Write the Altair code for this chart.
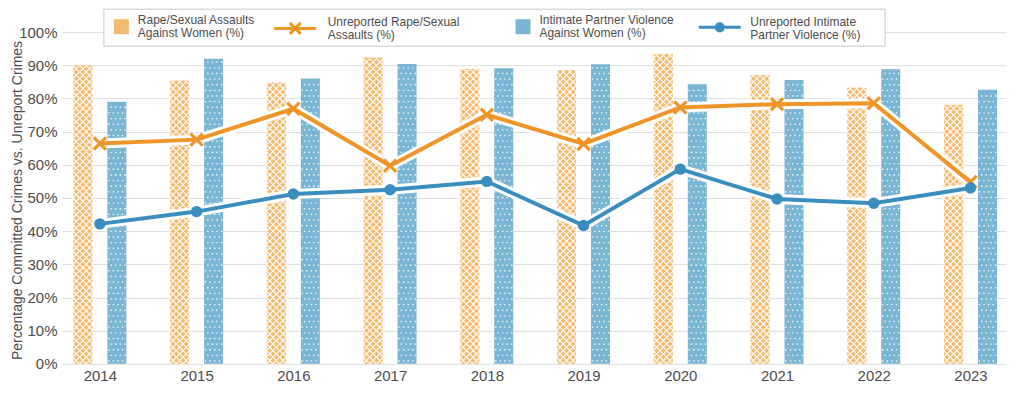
import altair as alt
import pandas as pd

# ---------------- data ----------------
years = [2014, 2015, 2016, 2017, 2018, 2019, 2020, 2021, 2022, 2023]
rape_pct = [90.0, 85.4, 84.8, 92.3, 88.9, 88.6, 93.5, 87.1, 83.3, 78.1]
unrep_rape_pct = [66.4, 67.6, 76.9, 59.7, 75.1, 66.3, 77.3, 78.3, 78.6, 54.8]
ipv_pct = [79.0, 92.0, 86.0, 90.4, 89.1, 90.3, 84.3, 85.6, 88.8, 82.6]
unrep_ipv_pct = [42.2, 45.9, 51.2, 52.5, 55.0, 41.7, 58.7, 49.7, 48.4, 53.0]

lab_rape = "Rape/Sexual Assaults Against Women (%)"
lab_unrep_rape = "Unreported Rape/Sexual Assaults (%)"
lab_ipv = "Intimate Partner Violence Against Women (%)"
lab_unrep_ipv = "Unreported Intimate Partner Violence (%)"
y_title = "Percentage Committed Crimes vs. Unreport Crimes"

df = pd.DataFrame({
    "year": years,
    "rape": rape_pct,
    "unrep_rape": unrep_rape_pct,
    "ipv": ipv_pct,
    "unrep_ipv": unrep_ipv_pct,
})

# ---------------- style ----------------
ORANGE_BAR = "#F4BA70"
BLUE_BAR = "#7AB5D3"
ORANGE = "#EF9427"
BLUE = "#3A8EBF"
GRID = "#DDDDDD"
TEXT = "#4D4D4D"
FONT = "Liberation Sans"

W, H = 945, 332
XMIN, XMAX = 2013.608, 2023.367
PX = (XMAX - XMIN) / W          # year units per pixel
OFF = 17 * PX                   # bar offset from year centre
BARW = 19
D = 6.64                        # hatch spacing in px (2% of the y range)

XPATH = "M-1,-1L1,1M-1,1L1,-1"
LEG_SQ = "M-1,-0.13H1V1.87H-1Z"
LEG_X = "M-1,0.32H1M-0.26,0.06L0.26,0.58M-0.26,0.58L0.26,0.06"
LEG_O = "M-1,0.27H1M-0.17,0.27a0.17,0.17 0 1,0 0.34,0a0.17,0.17 0 1,0 -0.34,0Z"

xscale = alt.Scale(domain=[XMIN, XMAX], nice=False, zero=False, padding=0)
yscale = alt.Scale(domain=[0, 100], nice=False, padding=0)

xaxis = alt.Axis(values=years, format="d", title=None, grid=False, ticks=False,
                 domain=False, labelPadding=5, labelFontSize=15, labelColor=TEXT,
                 labelFont=FONT)
yaxis = alt.Axis(values=list(range(0, 101, 10)), labelExpr="datum.value + '%'",
                 title=y_title, titleX=-40, titleY=168, titleAngle=270,
                 titleAlign="center", titleBaseline="alphabetic",
                 titleFontSize=14, titleFontWeight="normal", titleColor=TEXT,
                 titleFont=FONT, grid=True, gridColor=GRID, gridWidth=1,
                 ticks=False, domain=False, labelPadding=5, labelFontSize=15,
                 labelColor=TEXT, labelFont=FONT)


def X(field):
    return alt.X(field, type="quantitative", scale=xscale, axis=xaxis)


def Y(field):
    return alt.Y(field, type="quantitative", scale=yscale, axis=yaxis)


def leg(x, y, lines, **kw):
    return alt.Legend(orient="none", legendX=x, legendY=y, title=None,
                      labelExpr=str(lines), labelFontSize=12, labelFont=FONT,
                      labelColor=TEXT, labelLimit=400, padding=0, **kw)


base = alt.Chart(df)

bars_r = base.transform_calculate(
    xr=f"datum.year - {OFF}", s=f"'{lab_rape}'"
).mark_bar(width=BARW).encode(
    x=X("xr"), y=Y("rape"),
    fill=alt.Fill("s:N", scale=alt.Scale(range=[ORANGE_BAR]),
                  legend=leg(52, -19.5, ["Rape/Sexual Assaults", "Against Women (%)"],
                             symbolType=LEG_SQ, symbolSize=225,
                             symbolStrokeWidth=0, labelOffset=9)),
)

hatch = base.transform_calculate(
    ry="sequence(1, datum.rape + 0.5, 2)", cx="[-1, 0, 1]"
).transform_flatten(["ry"]).transform_flatten(["cx"]).transform_calculate(
    hx=f"datum.year - {OFF} + datum.cx * {D * PX}"
).mark_point(shape=XPATH, filled=False, stroke="white", strokeWidth=1.1,
             size=D * D, opacity=1).encode(x=X("hx"), y=Y("ry"))

bars_b = base.transform_calculate(
    xb=f"datum.year + {OFF}", s=f"'{lab_ipv}'"
).mark_bar(width=BARW).encode(
    x=X("xb"), y=Y("ipv"),
    fill=alt.Fill("s:N", scale=alt.Scale(range=[BLUE_BAR]),
                  legend=leg(454, -19.5, ["Intimate Partner Violence", "Against Women (%)"],
                             symbolType=LEG_SQ, symbolSize=225,
                             symbolStrokeWidth=0, labelOffset=9)),
)

dots = base.transform_calculate(
    ry="sequence(0.85, datum.ipv - 0.3, 1.7)", cx="[-1.5, -0.5, 0.5, 1.5]"
).transform_flatten(["ry"]).transform_flatten(["cx"]).transform_calculate(
    hx=f"datum.year + {OFF} + (datum.cx + (round(datum.ry / 1.7 - 0.5) % 2 ? 0.25 : -0.25)) * {4.6 * PX}"
).mark_square(size=1.9, color="white", opacity=0.95).encode(x=X("hx"), y=Y("ry"))

frame = alt.Chart(pd.DataFrame({"k": [0]})).mark_rect(
    fill="white", stroke="#C8C8C8", strokeWidth=1
).encode(x=alt.value(42), x2=alt.value(824), y=alt.value(-23), y2=alt.value(14))

halo_r = base.mark_line(stroke="white", strokeWidth=10).encode(
    x=X("year"), y=Y("unrep_rape"))
line_r = base.mark_line(stroke=ORANGE, strokeWidth=4).encode(
    x=X("year"), y=Y("unrep_rape"))
pts_r = base.transform_calculate(s=f"'{lab_unrep_rape}'").mark_point(
    shape=XPATH, filled=False, strokeWidth=3.2, size=150, opacity=1
).encode(
    x=X("year"), y=Y("unrep_rape"),
    stroke=alt.Stroke("s:N", scale=alt.Scale(range=[ORANGE]),
                      legend=leg(211, -33, ["Unreported Rape/Sexual", "Assaults (%)"],
                                 symbolType=LEG_X, symbolSize=42 * 42,
                                 symbolStrokeWidth=3, labelOffset=10)),
)

halo_b = base.mark_line(stroke="white", strokeWidth=10).encode(
    x=X("year"), y=Y("unrep_ipv"))
line_b = base.mark_line(stroke=BLUE, strokeWidth=4).encode(
    x=X("year"), y=Y("unrep_ipv"))
pts_b = base.transform_calculate(s=f"'{lab_unrep_ipv}'").mark_point(
    shape="circle", filled=True, size=130, opacity=1, stroke=BLUE, strokeWidth=0
).encode(
    x=X("year"), y=Y("unrep_ipv"),
    fill=alt.Fill("s:N", scale=alt.Scale(range=[BLUE]),
                  legend=leg(636, -33, ["Unreported Intimate", "Partner Violence (%)"],
                             symbolType=LEG_O, symbolSize=42 * 42,
                             symbolStrokeColor=BLUE, symbolStrokeWidth=3,
                             labelOffset=8)),
)

chart = alt.layer(
    bars_r, hatch, bars_b, dots, frame,
    halo_r, line_r, pts_r, halo_b, line_b, pts_b,
).resolve_scale(
    fill="independent", stroke="independent"
).properties(
    width=W, height=H,
    padding={"left": 54, "top": 24, "right": 10, "bottom": 21},
    autosize=alt.AutoSizeParams(type="none"),
).configure(
    font=FONT, style={"guide-label": {"lineHeight": 13}}
).configure_view(stroke=None)

chart.save("out.html", embed_options={"renderer": "svg", "actions": False})
